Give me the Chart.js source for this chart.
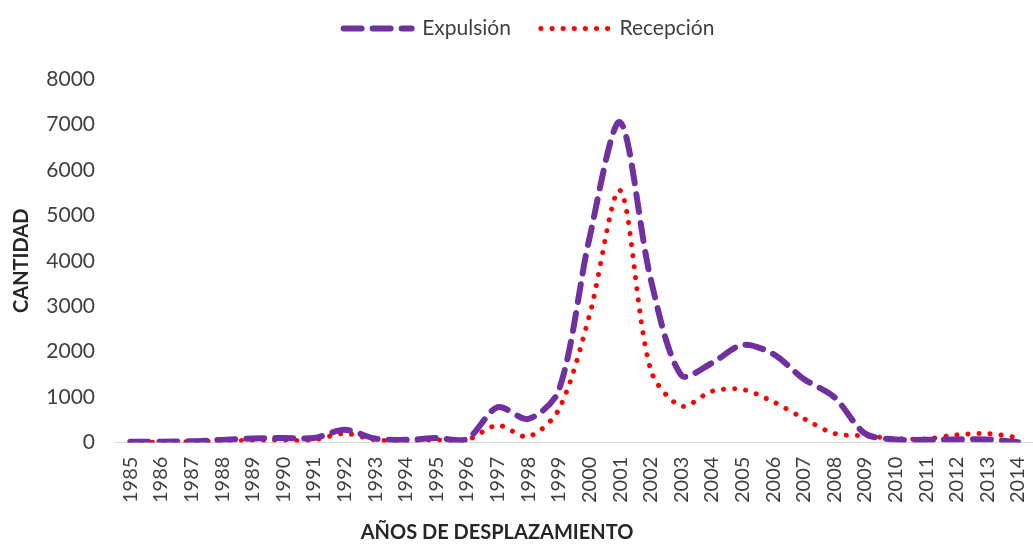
<!DOCTYPE html>
<html>
<head>
<meta charset="utf-8">
<script src="https://cdn.jsdelivr.net/npm/chart.js@4"></script>
<style>
  html, body { margin: 0; padding: 0; background: #fff; overflow: hidden; }
  #wrap { position: relative; width: 1048px; height: 546px; }
</style>
</head>
<body>
<div id="wrap"><canvas id="chart"></canvas></div>
<script>
// Desplazamiento: expulsión vs recepción por año
const years = ['1985','1986','1987','1988','1989','1990','1991','1992','1993','1994',
               '1995','1996','1997','1998','1999','2000','2001','2002','2003','2004',
               '2005','2006','2007','2008','2009','2010','2011','2012','2013','2014'];
const expulsion = [20, 20, 30, 60, 90, 100, 100, 280, 90, 60,
                   100, 80, 780, 520, 1150, 4500, 7050, 3600, 1480, 1750,
                   2150, 1950, 1400, 1000, 200, 70, 60, 70, 70, 10];
const recepcion = [10, 10, 20, 40, 50, 50, 60, 200, 60, 40,
                   60, 60, 380, 130, 730, 2800, 5550, 1600, 800, 1130,
                   1170, 900, 530, 200, 150, 90, 80, 170, 200, 110];
const yTicks = [0, 1000, 2000, 3000, 4000, 5000, 6000, 7000, 8000];

const FONT = 'Lato, "Open Sans", sans-serif';
const TEXT = '#404040';

// x-axis title, drawn under the rotated year labels
const xTitle = {
  id: 'xTitle',
  afterDraw(chart) {
    const ctx = chart.ctx;
    ctx.save();
    ctx.font = 'bold 20px ' + FONT;
    ctx.fillStyle = '#262626';
    ctx.textAlign = 'center';
    ctx.textBaseline = 'middle';
    ctx.fillText('AÑOS DE DESPLAZAMIENTO', 497, 533);
    ctx.restore();
  }
};

// extra gap between legend and plot
const legendGap = {
  id: 'legendGap',
  beforeInit(chart) {
    const fit = chart.legend.fit;
    chart.legend.fit = function() {
      fit.call(this);
      this.height += 30;
    };
  }
};

new Chart(document.getElementById('chart'), {
  type: 'line',
  data: {
    labels: years,
    datasets: [
      {
        label: 'Expulsión',
        data: expulsion,
        borderColor: '#7030A0',
        backgroundColor: '#7030A0',
        borderWidth: 6,
        borderDash: [18, 11],
        borderCapStyle: 'round',
        pointRadius: 0,
        tension: 0.3
      },
      {
        label: 'Recepción',
        data: recepcion,
        borderColor: '#FF0000',
        backgroundColor: '#FF0000',
        borderWidth: 5,
        borderDash: [0.1, 11],
        borderCapStyle: 'round',
        pointRadius: 0,
        tension: 0.3
      }
    ]
  },
  options: {
    responsive: true,
    maintainAspectRatio: false,
    animation: false,
    layout: { padding: { top: -12, left: 10, right: 0, bottom: 37 } },
    plugins: {
      legend: {
        position: 'top',
        labels: {
          usePointStyle: true,
          pointStyle: 'line',
          pointStyleWidth: 68,
          padding: 30,
          color: TEXT,
          font: { size: 21, family: FONT },
          generateLabels(chart) {
            const items = Chart.defaults.plugins.legend.labels.generateLabels(chart);
            items.forEach(it => {
              const ds = chart.data.datasets[it.datasetIndex];
              it.lineDash = ds.borderDash;
              it.lineCap = 'round';
              it.lineWidth = ds.borderWidth;
              it.strokeStyle = ds.borderColor;
            });
            return items;
          }
        }
      },
      tooltip: { enabled: false }
    },
    scales: {
      x: {
        offset: true,
        grid: { display: false },
        border: { display: true, color: '#D9D9D9', width: 1 },
        ticks: {
          minRotation: 90,
          maxRotation: 90,
          autoSkip: false,
          padding: 6,
          color: TEXT,
          font: { size: 20, family: FONT }
        }
      },
      y: {
        min: 0,
        max: 8000,
        grid: { display: false },
        border: { display: false },
        afterBuildTicks: s => { s.ticks = yTicks.map(v => ({ value: v })); },
        afterFit: s => { s.width = 105; },
        ticks: {
          padding: 12,
          color: TEXT,
          callback: v => String(v),
          font: { size: 21, family: FONT }
        },
        title: {
          display: true,
          text: 'CANTIDAD',
          color: '#262626',
          padding: 0,
          font: { size: 20, weight: 'bold', family: FONT }
        }
      }
    }
  },
  plugins: [xTitle, legendGap]
});
</script>
</body>
</html>
